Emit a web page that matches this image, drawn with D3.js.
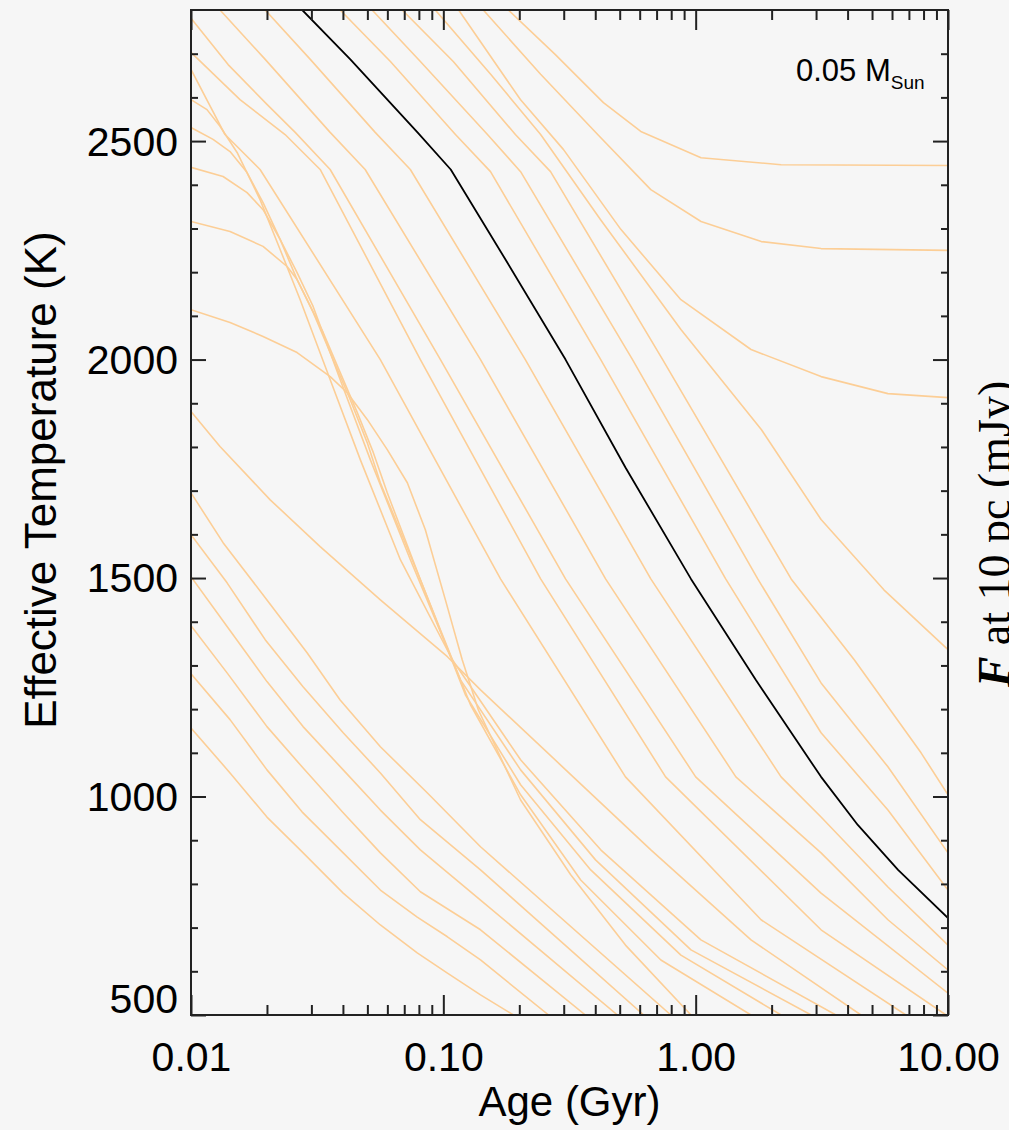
<!DOCTYPE html>
<html>
<head>
<meta charset="utf-8">
<script src="https://cdn.jsdelivr.net/npm/d3@7"></script>
<style>
  html, body { margin: 0; padding: 0; background: #f6f6f6; }
  svg { display: block; }
  text { font-family: "Liberation Sans", Arial, Helvetica, sans-serif; fill: #000; }
</style>
</head>
<body>
<div id="chart"></div>
<script>
// axis ticks
const xMajor = [0.01, 0.1, 1, 10];
const xMinor = [0.02, 0.03, 0.04, 0.05, 0.06, 0.07, 0.08, 0.09,
                0.2, 0.3, 0.4, 0.5, 0.6, 0.7, 0.8, 0.9,
                2, 3, 4, 5, 6, 7, 8, 9];
const yMajor = [500, 1000, 1500, 2000, 2500];
const yMinor = [600, 700, 800, 900, 1100, 1200, 1300, 1400, 1600, 1700, 1800, 1900,
                2100, 2200, 2300, 2400, 2600, 2700];

// cooling tracks: [age (Gyr), Teff (K)]
const trackHot1 = [[0.181,2800],[0.278,2698],[0.431,2588],[0.606,2522],[1.05,2462],[2.18,2446],[10,2444]];
const trackHot2 = [[0.144,2800],[0.243,2653],[0.409,2515],[0.664,2389],[1.05,2316],[1.82,2270],[3.14,2254],[10,2250]];
const trackHot3 = [[0.115,2800],[0.202,2595],[0.299,2481],[0.505,2298],[0.874,2137],[1.657,2023],[3.14,1961],[5.78,1922],[10,1913]];
const trackHot4 = [[0.0929,2800],[0.154,2653],[0.243,2515],[0.42,2320],[0.874,2069],[1.82,1840],[3.14,1634],[5.57,1473],[10,1336]];
const trackBd1 = [[0.0687,2800],[0.1095,2682],[0.193,2515],[0.266,2430],[0.74,2000],[2.39,1498],[4.25,1313],[7.82,1100],[10,1004]];
const trackBd2 = [[0.0522,2800],[0.0811,2682],[0.1496,2515],[0.2024,2430],[0.562,2000],[1.762,1498],[3.14,1260],[5.78,1068],[10,871]];
const trackBd3 = [[0.039,2800],[0.0617,2682],[0.1117,2515],[0.1538,2430],[0.4205,2000],[1.315,1498],[3.14,1146],[5.78,969],[10,786]];
const track005 = [[0.0276,2800],[0.0428,2687],[0.079,2520],[0.107,2435],[0.1763,2229],[0.305,2000],[0.527,1753],[0.958,1498],[1.73,1267],[3.14,1045],[4.39,935],[6.34,832],[10,722]];
const trackBd5 = [[0.01968,2800],[0.0297,2687],[0.0537,2520],[0.074,2435],[0.2113,2000],[0.664,1498],[2.18,1045],[3.14,953],[5.78,793],[10,660]];
const trackBd6 = [[0.01303,2800],[0.01968,2687],[0.0356,2520],[0.049,2435],[0.1404,2000],[0.4395,1498],[1.443,1045],[3.14,871],[5.78,718],[10,603]];
const trackBd7 = [[0.01,2781],[0.01403,2675],[0.02,2584],[0.02588,2520],[0.0356,2435],[0.0974,2000],[0.305,1498],[1.0,1045],[3.14,779],[10,550]];
const trackBd8 = [[0.01,2703],[0.01564,2595],[0.0236,2515],[0.0325,2435],[0.0811,2000],[0.243,1498],[0.76,1045],[3.14,695],[9.82,500]];
const trackBd9 = [[0.01,2664],[0.01364,2515],[0.01878,2435],[0.05627,2000],[0.1685,1498],[0.527,1045],[1.816,718],[6.81,500]];
// deuterium burners
const trackD1 = [[0.01,2595],[0.01157,2572],[0.01303,2534],[0.01523,2474],[0.01878,2366],[0.02255,2252],[0.02708,2137],[0.03562,1954],[0.04687,1771],[0.06756,1542],[0.1086,1313],[0.2024,1084],[0.4205,878],[1.049,672],[3.597,500]];
const trackD2 = [[0.01,2531],[0.01223,2504],[0.01428,2476],[0.01668,2428],[0.0193,2359],[0.02255,2275],[0.02633,2199],[0.0305,2121],[0.03903,1954],[0.05135,1771],[0.07403,1542],[0.1169,1267],[0.2024,1061],[0.401,855],[0.958,649],[2.869,500]];
const trackD3 = [[0.01,2440],[0.0134,2419],[0.01668,2382],[0.0193,2343],[0.02255,2275],[0.02633,2183],[0.0305,2108],[0.03562,2016],[0.04277,1908],[0.04993,1810],[0.05627,1718],[0.08112,1496],[0.1223,1233],[0.2024,1027],[0.3838,832],[0.874,637],[2.181,500]];
const trackD4 = [[0.01,2316],[0.01428,2293],[0.0193,2259],[0.02403,2213],[0.02633,2183],[0.02885,2137],[0.0334,2062],[0.03903,1970],[0.04557,1879],[0.0528,1787],[0.05995,1695],[0.08112,1496],[0.1281,1210],[0.2024,1004],[0.3503,809],[0.7279,626],[1.657,500]];
const trackD5 = [[0.01,2114],[0.01428,2085],[0.0193,2053],[0.02633,2016],[0.03562,1961],[0.0416,1924],[0.04993,1863],[0.05995,1794],[0.072,1718],[0.0848,1611],[0.1019,1450],[0.1188,1313],[0.1377,1198],[0.2024,992],[0.3197,821],[0.527,660],[0.958,500]];
const trackS1 = [[0.01,1881],[0.01303,1801],[0.0206,1679],[0.0325,1572],[0.0563,1450],[0.1038,1320],[0.1404,1244],[0.2917,1072],[0.6643,878],[1.657,672],[4.52,500]];
// planetary masses
const trackP1 = [[0.01,1695],[0.0134,1581],[0.02,1450],[0.02884,1329],[0.039,1221],[0.0563,1114],[0.0865,1008],[0.1404,885],[0.7976,500]];
const trackP2 = [[0.01,1599],[0.0139,1489],[0.01968,1359],[0.0278,1251],[0.0401,1146],[0.0563,1054],[0.0811,947],[0.1404,832],[0.6224,500]];
const trackP3 = [[0.01,1503],[0.0139,1389],[0.02,1263],[0.0278,1160],[0.0401,1061],[0.0563,969],[0.0811,878],[0.1404,763],[0.4898,500]];
const trackP4 = [[0.01,1391],[0.0139,1283],[0.02,1160],[0.02754,1068],[0.0401,963],[0.0563,871],[0.0811,782],[0.1404,695],[0.3656,500]];
const trackP5 = [[0.01,1281],[0.01428,1176],[0.02,1061],[0.02754,965],[0.0401,871],[0.0563,786],[0.0788,724],[0.1038,679],[0.1404,626],[0.2614,500]];
const trackP6 = [[0.01,1157],[0.01428,1054],[0.02,953],[0.02708,878],[0.0401,779],[0.0563,706],[0.0788,642],[0.1038,596],[0.1404,546],[0.1897,500]];

const otherTracks = [trackHot1, trackHot2, trackHot3, trackHot4, trackBd1, trackBd2, trackBd3,
    trackBd5, trackBd6, trackBd7, trackBd8, trackBd9,
    trackD1, trackD2, trackD3, trackD4, trackD5, trackS1,
    trackP1, trackP2, trackP3, trackP4, trackP5, trackP6];

const W = 1009, H = 1130;
const margin = {top: 10, right: 61, bottom: 115, left: 191};
const width = W - margin.left - margin.right;
const height = H - margin.top - margin.bottom;

const svg = d3.select("#chart").append("svg")
    .attr("width", W)
    .attr("height", H);

svg.append("rect").attr("width", W).attr("height", H).attr("fill", "#f6f6f6");

const g = svg.append("g")
    .attr("transform", `translate(${margin.left},${margin.top})`);

// scales
const x = d3.scaleLog().domain([0.01, 10]).range([0, width]);
const y = d3.scaleLinear().domain([500, 2800]).range([height, 0]);

g.append("clipPath").attr("id", "plot-clip")
    .append("rect").attr("width", width).attr("height", height);

// plain polylines, like the original plot
const line = d3.line()
    .x(d => x(d[0]))
    .y(d => y(d[1]));

const curves = g.append("g").attr("clip-path", "url(#plot-clip)");

curves.selectAll("path.track")
    .data(otherTracks)
    .join("path")
    .attr("class", "track")
    .attr("d", line)
    .attr("fill", "none")
    .attr("stroke", "#fcce96")
    .attr("stroke-width", 1.6)
    .attr("stroke-linejoin", "round");

curves.append("path")
    .datum(track005)
    .attr("d", line)
    .attr("fill", "none")
    .attr("stroke", "#000")
    .attr("stroke-width", 1.8)
    .attr("stroke-linejoin", "round");

// axes (ticks point inward)
function styleAxis(sel) {
    sel.select(".domain").remove();
    sel.selectAll(".tick line").attr("stroke", "#222").attr("stroke-width", 2);
}

g.append("g").attr("transform", `translate(0,${height})`)
    .call(d3.axisBottom(x).tickValues(xMajor).tickSize(-20).tickPadding(27).tickFormat(d3.format(".2f")))
    .call(styleAxis)
    .selectAll("text").style("font-size", "41px").attr("fill", "#000");

g.append("g").attr("transform", `translate(0,${height})`)
    .call(d3.axisBottom(x).tickValues(xMinor).tickSize(-10).tickFormat(""))
    .call(styleAxis);

g.append("g")
    .call(d3.axisTop(x).tickValues(xMajor).tickSize(-20).tickFormat(""))
    .call(styleAxis);
g.append("g")
    .call(d3.axisTop(x).tickValues(xMinor).tickSize(-10).tickFormat(""))
    .call(styleAxis);

const yAxisG = g.append("g")
    .call(d3.axisLeft(y).tickValues(yMajor).tickSize(-15).tickPadding(13).tickFormat(d3.format("d")))
    .call(styleAxis);
yAxisG.selectAll("text").style("font-size", "41px").attr("fill", "#000")
    .attr("dy", d => d === 500 ? "-0.05em" : "0.34em");

g.append("g")
    .call(d3.axisLeft(y).tickValues(yMinor).tickSize(-7).tickFormat(""))
    .call(styleAxis);

g.append("g").attr("transform", `translate(${width},0)`)
    .call(d3.axisRight(y).tickValues(yMajor).tickSize(-15).tickFormat(""))
    .call(styleAxis);
g.append("g").attr("transform", `translate(${width},0)`)
    .call(d3.axisRight(y).tickValues(yMinor).tickSize(-7).tickFormat(""))
    .call(styleAxis);

// frame
g.append("rect")
    .attr("width", width).attr("height", height)
    .attr("fill", "none").attr("stroke", "#222").attr("stroke-width", 2);

// labels
svg.append("text")
    .attr("x", margin.left + width / 2)
    .attr("y", 1116)
    .attr("text-anchor", "middle")
    .style("font-size", "42px")
    .text("Age (Gyr)");

svg.append("text")
    .attr("transform", "translate(56,480) rotate(-90)")
    .attr("text-anchor", "middle")
    .style("font-size", "44px")
    .text("Effective Temperature (K)");

const massLabel = svg.append("text")
    .attr("x", 796)
    .attr("y", 81)
    .style("font-size", "31px");
massLabel.append("tspan").text("0.05 M");
massLabel.append("tspan").attr("dy", 8).style("font-size", "19px").text("Sun");

// right-hand label, mostly outside the window
const fluxLabel = svg.append("text")
    .attr("transform", "translate(1010,534) rotate(-90)")
    .attr("text-anchor", "middle")
    .style("font-family", "'Liberation Serif', 'Times New Roman', serif")
    .style("font-size", "46px");
fluxLabel.append("tspan").style("font-style", "italic").style("font-weight", "bold")
    .style("font-family", "'Liberation Serif', serif").text("F");
fluxLabel.append("tspan").style("font-family", "'Liberation Serif', serif").text("  at 10 pc (mJy)");
</script>
</body>
</html>
